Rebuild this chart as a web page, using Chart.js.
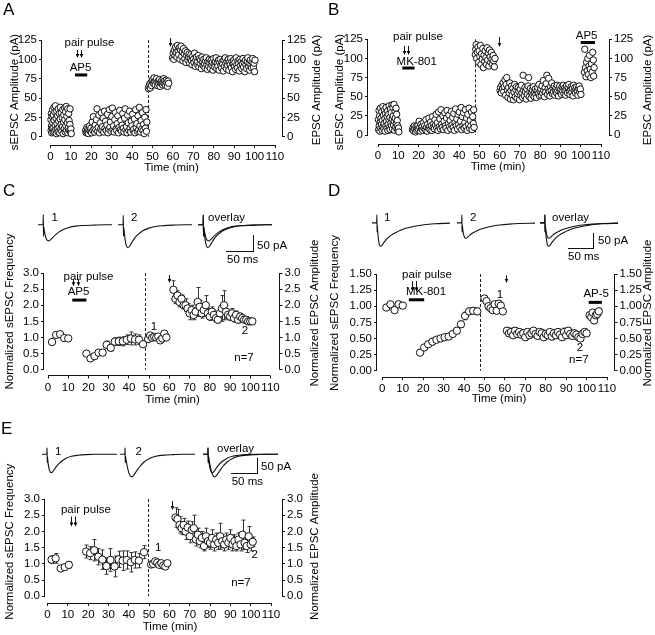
<!DOCTYPE html>
<html>
<head>
<meta charset="utf-8">
<script src="https://cdn.jsdelivr.net/npm/chart.js@4.4.1/dist/chart.umd.min.js"></script>
<style>
body { margin: 0; background: #fff; }
#fig { position: relative; width: 655px; height: 635px; overflow: hidden; font-family: "Liberation Sans", Arial, sans-serif; color: #000; }
#fig canvas { position: absolute; }
.lbl { position: absolute; white-space: nowrap; }
.sbar { position: absolute; border-right: 1px solid #111; border-bottom: 1px solid #111; }
</style>
</head>
<body>
<div id="fig"></div>
<script>
// ---- tick labels ----
const timeTicks = [0, 10, 20, 30, 40, 50, 60, 70, 80, 90, 100, 110];
const ampTicks = [0, 25, 50, 75, 100, 125];
const normTicks3 = [0, 0.5, 1, 1.5, 2, 2.5, 3];
const normTicks15 = [0, 0.25, 0.5, 0.75, 1, 1.25, 1.5];

// ---- A: [time (min), amplitude (pA)] ----
const aBase = [[0.2,22],[0.3,8],[0.4,30],[0.5,14],[0.6,5],[0.8,26],[0.9,11],[1.0,35],[1.1,18],[1.3,6],[1.4,28],[1.6,12],[1.7,38],[1.8,21],[2.0,7],[2.1,32],[2.3,15],[2.4,40],[2.6,9],[2.7,24],[2.9,4],[3.0,33],[3.2,17],[3.3,10],[3.5,27],[3.7,6],[3.8,36],[4.0,20],[4.2,12],[4.3,30],[4.5,5],[4.7,23],[4.8,38],[5.0,9],[5.2,16],[5.3,31],[5.5,7],[5.7,25],[5.9,13],[6.0,35],[6.2,4],[6.4,19],[6.5,28],[6.7,10],[6.9,37],[7.0,22],[7.2,6],[7.4,32],[7.5,14],[7.7,39],[7.9,8],[8.0,26],[8.2,18],[8.4,36],[8.5,5],[8.7,11],[8.9,30],[9.1,21],[9.3,8],[9.5,16],[9.6,36],[9.8,6],[10.0,10],[10.2,4]];
const aAfterDrug = [[17.2,8],[17.5,5],[17.8,12],[18.0,6],[18.3,10],[18.6,4],[18.9,9],[19.2,14],[19.5,7],[19.8,11],[20.1,5],[20.4,19],[20.7,8],[21.0,26],[21.3,10],[21.6,6],[21.9,15],[22.2,9],[22.5,22],[22.8,36],[23.1,7],[23.4,12],[23.7,28],[24.0,5],[24.3,18],[24.6,10],[24.9,31],[25.2,8],[25.5,13],[25.8,24],[26.1,6],[26.4,33],[26.7,11],[27.0,20],[27.3,8],[27.6,15],[27.9,29],[28.2,5],[28.5,10],[28.8,35],[29.1,12],[29.4,19],[29.7,7],[30.0,26],[30.3,37],[30.6,9],[30.9,14],[31.2,6],[31.5,22],[31.8,31],[32.1,10],[32.4,8],[32.7,17],[33.0,27],[33.3,5],[33.6,12],[33.9,34],[34.2,9],[34.5,21],[34.8,7],[35.1,15],[35.4,30],[35.7,11],[36.0,6],[36.3,24],[36.6,36],[36.9,9],[37.2,13],[37.5,5],[37.8,28],[38.1,18],[38.4,8],[38.7,33],[39.0,11],[39.3,6],[39.6,20],[39.9,14],[40.2,29],[40.5,8],[40.8,10],[41.1,23],[41.4,5],[41.7,35],[42.0,12],[42.3,17],[42.6,7],[42.9,27],[43.2,9],[43.5,38],[43.8,14],[44.1,6],[44.4,21],[44.7,10],[45.0,31],[45.3,8],[45.6,16],[45.9,4],[46.2,25],[46.5,11],[46.8,35],[47.0,7],[47.2,19]];
const aEvoked = [[48.0,62],[48.3,65],[48.6,68],[48.9,63],[49.2,70],[49.5,66],[49.8,72],[50.1,74],[50.4,69],[50.7,76],[51.0,71],[51.3,67],[51.6,73],[51.9,75],[52.2,70],[52.5,66],[52.8,72],[53.1,68],[53.4,74],[53.7,65],[54.0,71],[54.3,69],[54.6,73],[54.9,67],[55.2,70],[55.5,75],[55.8,72],[56.1,68],[56.4,66],[56.7,73],[57.0,70],[57.3,65],[57.6,72],[57.9,69]];
const aLtp = [[59.8,102],[60.1,108],[60.4,100],[60.7,112],[61.0,105],[61.3,116],[61.6,109],[61.9,103],[62.2,118],[62.5,111],[62.8,106],[63.1,115],[63.4,100],[63.7,112],[64.0,117],[64.3,104],[64.6,110],[64.9,98],[65.2,114],[65.5,107],[65.8,101],[66.1,111],[66.4,96],[66.7,105],[67.0,109],[67.3,99],[67.6,103],[67.9,107],[68.2,95],[68.5,102],[68.8,106],[69.1,98],[69.4,93],[69.7,104],[70.0,100],[70.3,96],[70.6,108],[70.9,91],[71.2,99],[71.5,103],[71.8,94],[72.1,97],[72.4,105],[72.7,90],[73.0,101],[73.3,95],[73.6,99],[73.9,88],[74.2,103],[74.5,96],[74.8,92],[75.1,100],[75.4,94],[75.7,89],[76.0,98],[76.3,102],[76.6,93],[76.9,87],[77.2,97],[77.5,91],[77.8,100],[78.1,95],[78.4,88],[78.7,99],[79.0,93],[79.3,96],[79.6,86],[79.9,101],[80.2,94],[80.5,90],[80.8,97],[81.1,102],[81.4,88],[81.7,95],[82.0,91],[82.3,99],[82.6,86],[82.9,96],[83.2,100],[83.5,92],[83.8,89],[84.1,97],[84.4,94],[84.7,85],[85.0,99],[85.3,91],[85.6,102],[85.9,95],[86.2,88],[86.5,97],[86.8,92],[87.1,100],[87.4,86],[87.7,96],[88.0,93],[88.3,101],[88.6,89],[88.9,97],[89.2,84],[89.5,94],[89.8,99],[90.1,91],[90.4,96],[90.7,87],[91.0,102],[91.3,93],[91.6,89],[91.9,98],[92.2,95],[92.5,85],[92.8,100],[93.1,92],[93.4,97],[93.7,88],[94.0,94],[94.3,101],[94.6,90],[94.9,96],[95.2,84],[95.5,99],[95.8,93],[96.1,88],[96.4,97],[96.7,102],[97.0,91],[97.3,95],[97.6,86],[97.9,99],[98.2,93],[98.5,89],[98.8,97],[99.1,101],[99.4,90],[99.7,95],[100.0,84],[100.2,99]];

// ---- B: [time (min), amplitude (pA)] ----
const bBase = [[0.2,20],[0.3,7],[0.5,32],[0.6,12],[0.8,25],[0.9,5],[1.1,17],[1.2,35],[1.4,9],[1.5,22],[1.7,14],[1.9,30],[2.0,6],[2.2,19],[2.4,37],[2.5,11],[2.7,26],[2.9,8],[3.0,15],[3.2,33],[3.4,21],[3.5,5],[3.7,28],[3.9,12],[4.0,36],[4.2,18],[4.4,9],[4.5,24],[4.7,31],[4.9,6],[5.0,14],[5.2,27],[5.4,20],[5.5,38],[5.7,10],[5.9,23],[6.0,7],[6.2,34],[6.4,16],[6.5,29],[6.7,12],[6.9,39],[7.0,21],[7.2,8],[7.4,36],[7.5,25],[7.7,13],[7.9,40],[8.0,18],[8.2,6],[8.4,31],[8.5,22],[8.7,10],[8.9,35],[9.0,15],[9.2,27],[9.4,8],[9.5,19],[9.7,12],[9.9,5],[10.1,9],[10.3,4]];
const bAfterDrug = [[17.0,7],[17.3,10],[17.6,5],[17.9,12],[18.2,8],[18.5,4],[18.8,11],[19.1,6],[19.4,9],[19.7,13],[20.0,7],[20.3,18],[20.6,10],[20.9,5],[21.2,14],[21.5,8],[21.8,11],[22.1,6],[22.4,16],[22.7,9],[23.0,12],[23.3,7],[23.6,20],[23.9,10],[24.2,5],[24.5,14],[24.8,9],[25.1,22],[25.4,11],[25.7,7],[26.0,17],[26.3,12],[26.6,6],[26.9,24],[27.2,10],[27.5,15],[27.8,8],[28.1,20],[28.4,13],[28.7,27],[29.0,9],[29.3,16],[29.6,6],[29.9,30],[30.2,11],[30.5,21],[30.8,8],[31.1,33],[31.4,14],[31.7,10],[32.0,25],[32.3,7],[32.6,18],[32.9,29],[33.2,12],[33.5,9],[33.8,22],[34.1,32],[34.4,6],[34.7,15],[35.0,26],[35.3,11],[35.6,19],[35.9,8],[36.2,31],[36.5,13],[36.8,23],[37.1,10],[37.4,28],[37.7,6],[38.0,16],[38.3,34],[38.6,12],[38.9,21],[39.2,8],[39.5,27],[39.8,14],[40.1,30],[40.4,10],[40.7,18],[41.0,36],[41.3,7],[41.6,24],[41.9,12],[42.2,29],[42.5,9],[42.8,16],[43.1,33],[43.4,11],[43.7,22],[44.0,6],[44.3,27],[44.6,14],[44.9,35],[45.2,9],[45.5,19],[45.8,12],[46.1,30],[46.4,7],[46.7,24],[47.0,15],[47.2,33],[47.4,10]];
const bEvoked = [[48.0,105],[48.2,112],[48.4,118],[48.7,100],[49.0,108],[49.3,115],[49.6,95],[49.9,110],[50.2,103],[50.5,117],[50.8,92],[51.1,106],[51.4,99],[51.7,113],[52.0,88],[52.3,104],[52.6,96],[52.9,110],[53.2,101],[53.5,92],[53.8,114],[54.1,98],[54.4,107],[54.7,90],[55.0,111],[55.3,102],[55.6,95],[55.9,108],[56.2,99],[56.5,92],[56.8,104],[57.1,97],[57.4,89],[57.7,100]];
const bLtd = [[60.2,58],[60.5,62],[60.8,55],[61.1,65],[61.4,60],[61.7,68],[62.0,57],[62.3,63],[62.6,72],[62.9,52],[63.2,66],[63.5,75],[63.8,59],[64.1,49],[64.4,62],[64.7,55],[65.0,68],[65.3,47],[65.6,58],[65.9,64],[66.2,52],[66.5,61],[66.8,46],[67.1,56],[67.4,66],[67.7,50],[68.0,59],[68.3,63],[68.6,48],[68.9,54],[69.2,62],[69.5,57],[69.8,46],[70.1,60],[70.4,52],[70.7,65],[71.0,55],[71.3,49],[71.6,78],[71.9,58],[72.2,51],[72.5,62],[72.8,56],[73.1,47],[73.4,60],[73.7,53],[74.0,64],[74.3,75],[74.6,50],[74.9,57],[75.2,61],[75.5,48],[75.8,55],[76.1,59],[76.4,52],[76.7,63],[77.0,50],[77.3,56],[77.6,60],[77.9,53],[78.2,49],[78.5,58],[78.8,62],[79.1,54],[79.4,66],[79.7,51],[80.0,57],[80.3,60],[80.6,52],[80.9,64],[81.2,55],[81.5,71],[81.8,58],[82.1,50],[82.4,62],[82.7,56],[83.0,67],[83.3,78],[83.6,53],[83.9,60],[84.2,74],[84.5,57],[84.8,51],[85.1,63],[85.4,58],[85.7,68],[86.0,54],[86.3,61],[86.6,56],[86.9,64],[87.2,52],[87.5,59],[87.8,62],[88.1,55],[88.4,65],[88.7,58],[89.0,51],[89.3,61],[89.6,64],[89.9,56],[90.2,60],[90.5,53],[90.8,63],[91.1,57],[91.4,65],[91.7,54],[92.0,61],[92.3,58],[92.6,52],[92.9,64],[93.2,59],[93.5,55],[93.8,62],[94.1,66],[94.4,57],[94.7,53],[95.0,60],[95.3,63],[95.6,56],[95.9,61],[96.2,51],[96.5,65],[96.8,58],[97.1,62],[97.4,55],[97.7,60],[98.0,63],[98.3,57],[98.6,52],[98.9,61],[99.2,64],[99.5,56],[99.8,60],[100.1,53]];
const bAp5 = [[101.8,82],[102.0,112],[102.3,88],[102.6,76],[102.9,95],[103.2,84],[103.5,100],[103.8,79],[104.1,90],[104.4,104],[104.7,86],[105.0,75],[105.3,93],[105.6,82],[105.9,108],[106.2,98],[106.4,77],[106.6,88]];

// ---- C: normalized, mean and SEM ----
const cPreT = [2, 4, 6, 8, 10];
const cPreV = [0.86, 1.08, 1.1, 0.98, 0.97];
const cPreE = [0.03, 0.03, 0.03, 0.03, 0.03];
const cDrugT = [19, 21, 23, 25, 27, 29, 31, 33, 35, 37, 39, 41, 43, 45, 47];
const cDrugV = [0.5, 0.35, 0.42, 0.53, 0.53, 0.77, 0.68, 0.87, 0.88, 0.88, 0.93, 0.97, 0.94, 0.93, 0.79];
const cDrugE = [0.05, 0.05, 0.05, 0.06, 0.08, 0.12, 0.1, 0.12, 0.13, 0.14, 0.15, 0.2, 0.17, 0.15, 0.08];
const cEvT = [49.5, 50.5, 51.5, 52.5, 53.5, 54.5, 55.5, 56.5, 57.5, 58.5];
const cEvV = [0.95, 1.06, 0.99, 1.02, 1.0, 1.03, 0.91, 0.97, 1.12, 1.0];
const cEvE = [0.04, 0.04, 0.04, 0.04, 0.04, 0.04, 0.04, 0.04, 0.04, 0.04];
const cLtpT = [62,63,64,65,66,67,68,69,70,71,72,73,74,75,76,77,78,79,80,81,82,83,84,85,86,87,88,89,90,91,92,93,94,95,96,97,98,99,100,101];
const cLtpV = [2.48,2.2,2.3,2.1,2.2,2.0,2.0,1.9,1.75,1.85,1.7,1.8,2.1,1.95,1.75,1.85,2.0,1.75,1.65,1.8,1.7,1.6,1.55,1.75,1.9,2.0,1.8,1.7,1.65,1.75,1.6,1.7,1.55,1.65,1.6,1.55,1.55,1.5,1.5,1.5];
const cLtpE = [0.28,0.15,0.15,0.15,0.12,0.12,0.2,0.15,0.2,0.15,0.15,0.12,0.45,0.2,0.15,0.2,0.3,0.15,0.12,0.15,0.15,0.12,0.1,0.15,0.4,0.45,0.2,0.15,0.12,0.15,0.12,0.12,0.1,0.1,0.1,0.08,0.08,0.06,0.06,0.05];

// ---- D ----
const dPreT = [2, 4, 6, 8, 10];
const dPreV = [0.98, 1.03, 0.94, 1.03, 1.01];
const dPreE = [0.02, 0.02, 0.02, 0.02, 0.02];
const dDrugT = [18.5, 20.5, 22.5, 24.5, 26.5, 28.5, 30.5, 32.5, 34.5, 36.5, 38.5, 40.5, 42.5, 44.5, 46.5];
const dDrugV = [0.28, 0.36, 0.41, 0.45, 0.48, 0.5, 0.52, 0.53, 0.57, 0.62, 0.72, 0.85, 0.92, 0.93, 0.92];
const dDrugE = [0.02, 0.04, 0.04, 0.05, 0.04, 0.03, 0.03, 0.03, 0.04, 0.04, 0.05, 0.06, 0.05, 0.05, 0.05];
const dEvT = [50, 51, 52, 53, 54, 55, 56, 57, 58, 59];
const dEvV = [1.12, 1.08, 1.0, 0.97, 0.94, 1.03, 0.93, 1.04, 1.01, 0.92];
const dEvE = [0.03, 0.03, 0.03, 0.03, 0.03, 0.03, 0.03, 0.03, 0.03, 0.03];
const dLtdT = [61,62,63,64,65,66,67,68,69,70,71,72,73,74,75,76,77,78,79,80,81,82,83,84,85,86,87,88,89,90,91,92,93,94,95,96,97,98,99,100];
const dLtdV = [0.62,0.58,0.6,0.55,0.62,0.57,0.6,0.56,0.58,0.52,0.6,0.55,0.58,0.62,0.57,0.54,0.6,0.58,0.52,0.57,0.55,0.6,0.53,0.58,0.55,0.6,0.56,0.52,0.6,0.55,0.62,0.57,0.54,0.58,0.56,0.52,0.5,0.57,0.6,0.58];
const dLtdE = [0.05,0.05,0.06,0.05,0.05,0.04,0.05,0.05,0.06,0.05,0.05,0.05,0.04,0.05,0.05,0.05,0.05,0.06,0.05,0.05,0.05,0.04,0.05,0.06,0.05,0.05,0.05,0.05,0.06,0.05,0.05,0.06,0.05,0.05,0.05,0.05,0.04,0.05,0.05,0.04];
const dApT = [101.5, 102.3, 103, 103.7, 104.5, 105.2, 106];
const dApV = [0.86, 0.83, 0.9, 0.78, 0.86, 0.88, 0.92];
const dApE = [0.05, 0.04, 0.05, 0.05, 0.04, 0.05, 0.05];

// ---- E ----
const ePreT = [2, 4, 6.5, 8.5, 10.5];
const ePreV = [1.13, 1.17, 0.86, 0.9, 0.97];
const ePreE = [0.12, 0.15, 0.05, 0.05, 0.1];
const eMidT = [19, 21, 23, 25, 27, 29, 31, 33, 35, 37, 39, 41, 43, 45, 47.5];
const eMidV = [1.38, 1.33, 1.42, 1.22, 1.13, 0.93, 1.12, 0.92, 1.14, 1.1, 1.12, 1.05, 1.12, 1.1, 1.36];
const eMidE = [0.2, 0.2, 0.33, 0.25, 0.3, 0.25, 0.35, 0.32, 0.25, 0.3, 0.28, 0.3, 0.25, 0.22, 0.2];
const eEvT = [51, 52, 53, 54, 55, 56, 57, 58, 59];
const eEvV = [0.98, 1.0, 1.08, 1.04, 0.97, 1.02, 0.95, 0.92, 1.02];
const eEvE = [0.04, 0.04, 0.04, 0.04, 0.04, 0.04, 0.04, 0.04, 0.04];
const eLtpT = [63,64,65,66,67,68,69,70,71,72,73,74,75,76,77,78,79,80,81,82,83,84,85,86,87,88,89,90,91,92,93,94,95,96,97,98,99,100,101];
const eLtpV = [2.43,2.38,2.2,2.1,2.2,2.0,2.12,1.85,2.05,2.1,1.75,1.9,1.7,1.8,1.55,1.85,1.7,1.65,1.8,1.6,1.75,1.65,1.85,1.7,1.6,1.75,1.65,1.8,1.6,1.7,1.55,1.75,1.6,1.9,1.65,1.55,1.85,1.6,1.68];
const eLtpE = [0.3,0.3,0.25,0.2,0.2,0.25,0.2,0.2,0.25,0.4,0.2,0.2,0.2,0.2,0.15,0.25,0.2,0.2,0.25,0.2,0.2,0.2,0.4,0.2,0.2,0.2,0.2,0.25,0.2,0.2,0.15,0.2,0.2,0.45,0.2,0.2,0.3,0.2,0.15];

// ---- EPSC traces: time (ms) and current (pA) ----
const traceMs = [0, 9, 9.4, 9.8, 10.3, 11, 12.5, 14.5, 17, 19.5, 22, 26, 31, 37, 45, 55, 67, 82, 100, 120, 150];
const cTrace1 = [0, 0, 30, -34, -6, -14, -28, -41, -47, -48, -45, -38, -30, -22, -14, -8, -4, -2, -1, 0, 0];
const cTrace2 = [0, 0, 28, -34, -8, -20, -42, -60, -68, -66, -60, -49, -37, -27, -17, -10, -5, -2.5, -1, 0, 0];
const dTrace1 = [0, 0, 26, -30, -10, -30, -55, -72, -76, -72, -66, -57, -48, -40, -32, -24, -17, -11, -6, -3, -1];
const dTrace2 = [0, 0, 26, -30, -8, -20, -36, -47, -50, -48, -44, -38, -32, -27, -21, -16, -11, -7, -4, -2, -1];
const eTrace1 = [0, 0, 20, -26, -8, -22, -40, -52, -57, -55, -50, -40, -30, -21, -12, -6, -3, -1, 0, 0, 0];
const eTrace2 = [0, 0, 20, -26, -6, -14, -28, -45, -60, -68, -70, -64, -52, -38, -24, -13, -6, -2.5, -1, 0, 0];

const FONT = '"Liberation Sans", Arial, sans-serif';
const FS = 11.5;
Chart.defaults.font.family = FONT;
Chart.defaults.color = '#000';

const fig = document.getElementById('fig');

function addCanvas(x, y, w, h) {
  const c = document.createElement('canvas');
  c.width = Math.round(w);
  c.height = Math.round(h);
  c.style.left = Math.round(x) + 'px';
  c.style.top = Math.round(y) + 'px';
  c.style.width = c.width + 'px';
  c.style.height = c.height + 'px';
  fig.appendChild(c);
  return c;
}

function addText(s, x, yMid, size) {
  const d = document.createElement('div');
  d.className = 'lbl';
  d.textContent = s;
  d.style.fontSize = size + 'px';
  d.style.lineHeight = size + 'px';
  d.style.left = x + 'px';
  d.style.top = (yMid - size / 2) + 'px';
  fig.appendChild(d);
}

function addScaleBar(x1, y1, x2, y2) {
  const d = document.createElement('div');
  d.className = 'sbar';
  d.style.left = x1 + 'px';
  d.style.top = y1 + 'px';
  d.style.width = (x2 - x1 - 1) + 'px';
  d.style.height = (y2 - y1 - 1) + 'px';
  fig.appendChild(d);
}

// maps two known pixel positions to the value range covering [lo, hi] pixels
function span(px, val, lo, hi) {
  const k = (px[1] - px[0]) / (val[1] - val[0]);
  return [val[0] + (lo - px[0]) / k, val[0] + (hi - px[0]) / k];
}

const pts = (t, v) => t.map((x, i) => ({x: x, y: v[i]}));

const decor = {
  id: 'decor',
  beforeDatasetsDraw(chart, args, o) {
    const {ctx, scales: {x, y}} = chart;
    ctx.save();
    ctx.strokeStyle = '#222';
    ctx.lineWidth = 1;
    if (o.dashed) {
      ctx.setLineDash([3, 2]);
      const px = Math.round(x.getPixelForValue(o.dashed.t)) + 0.5;
      ctx.beginPath();
      ctx.moveTo(px, y.getPixelForValue(o.dashed.v1));
      ctx.lineTo(px, y.getPixelForValue(o.dashed.v2));
      ctx.stroke();
      ctx.setLineDash([]);
    }
    ctx.strokeStyle = '#333';
    chart.data.datasets.forEach(ds => {
      if (!ds.errors) return;
      ds.data.forEach((p, i) => {
        const e = ds.errors[i];
        const px = Math.round(x.getPixelForValue(p.x)) + 0.5;
        const top = y.getPixelForValue(p.y + e), bot = y.getPixelForValue(p.y - e);
        ctx.beginPath();
        ctx.moveTo(px, top); ctx.lineTo(px, bot);
        ctx.moveTo(px - 2, top); ctx.lineTo(px + 2, top);
        ctx.moveTo(px - 2, bot); ctx.lineTo(px + 2, bot);
        ctx.stroke();
      });
    });
    ctx.restore();
  },
  afterDraw(chart, args, o) {
    const {ctx, chartArea: a, scales: {x, y}} = chart;
    const X = v => x.getPixelForValue(v), Y = v => y.getPixelForValue(v);
    const yt = y.ticks, xt = x.ticks;
    ctx.save();
    ctx.strokeStyle = '#111';
    ctx.fillStyle = '#000';
    ctx.lineWidth = 1;
    // offset axis lines
    const lx = Math.floor(a.left) - 0.5, rx = Math.floor(a.right) + 0.5, by = Math.floor(a.bottom) + 0.5;
    ctx.beginPath();
    ctx.moveTo(lx, Y(yt[0].value)); ctx.lineTo(lx, Y(yt[yt.length - 1].value));
    ctx.moveTo(rx, Y(yt[0].value)); ctx.lineTo(rx, Y(yt[yt.length - 1].value));
    ctx.moveTo(X(xt[0].value), by); ctx.lineTo(X(xt[xt.length - 1].value), by);
    ctx.stroke();
    // drug bars
    (o.bars || []).forEach(b => {
      ctx.fillRect(X(b.t1), Y(b.v) - 1.5, X(b.t2) - X(b.t1), 3);
    });
    // arrows
    (o.arrows || []).forEach(r => {
      const px = Math.round(X(r.t)) + 0.5, y1 = Y(r.v1), y2 = Y(r.v2);
      ctx.beginPath(); ctx.moveTo(px, y1); ctx.lineTo(px, y2 - 2); ctx.stroke();
      ctx.beginPath(); ctx.moveTo(px - 1.8, y2 - 4); ctx.lineTo(px + 1.8, y2 - 4); ctx.lineTo(px, y2); ctx.closePath(); ctx.fill();
    });
    // annotations
    ctx.font = FS + 'px ' + FONT;
    ctx.textAlign = 'center';
    ctx.textBaseline = 'middle';
    (o.texts || []).forEach(t => ctx.fillText(t.s, X(t.t), Y(t.v)));
    // axis titles (page coords)
    (o.titles || []).forEach(t => {
      ctx.save();
      ctx.translate(t.x - o.origin[0], t.y - o.origin[1]);
      if (t.rot) ctx.rotate(-Math.PI / 2);
      ctx.fillText(t.s, 0, 0);
      ctx.restore();
    });
    ctx.restore();
  }
};

function axisOpts(pos, r, ticks, fmt, size) {
  const o = {
    type: 'linear', position: pos, min: r[0], max: r[1],
    afterBuildTicks: s => { s.ticks = ticks.map(v => ({value: v})); },
    grid: {drawOnChartArea: false, tickLength: 3, color: '#111'},
    border: {display: false},
    ticks: {font: {size: FS}, padding: 2, color: '#000', maxRotation: 0, autoSkip: false, callback: fmt}
  };
  if (pos === 'bottom') o.afterFit = s => { s.height = size; };
  else o.afterFit = s => { s.width = size; };
  return o;
}

function scatterPanel(p) {
  const [bx, by, bw, bh] = p.box;
  const cv = addCanvas(bx, by, bw, bh);
  const xr = span(p.xPx, [0, 110], p.area.l, p.area.r);
  const yr = span(p.yPx, [0, p.yTop], p.area.b, p.area.t);
  new Chart(cv, {
    type: 'scatter',
    data: {
      datasets: p.series.map(s => ({
        data: s.data,
        errors: s.errors,
        pointRadius: p.r,
        pointBorderWidth: 1,
        pointBorderColor: '#111',
        pointBackgroundColor: '#fff',
        showLine: false
      }))
    },
    options: {
      responsive: false,
      animation: false,
      events: [],
      layout: {padding: {top: p.area.t - by, left: 0, right: 0, bottom: 0}},
      plugins: {
        legend: {display: false},
        tooltip: {enabled: false},
        decor: Object.assign({origin: [bx, by]}, p.decor)
      },
      scales: {
        x: axisOpts('bottom', xr, timeTicks, v => v, by + bh - p.area.b),
        y: axisOpts('left', yr, p.yTicks, p.fmt, p.area.l - bx),
        y2: axisOpts('right', yr, p.yTicks, p.fmt, bx + bw - p.area.r)
      }
    },
    plugins: [decor]
  });
}

function tracePanel(g) {
  g.traces.forEach(tr => {
    const left = tr.stimX - 9.6 * g.msPx;
    const top = g.baseY - g.yMax * g.paPx;
    const cv = addCanvas(left, top, g.tMax * g.msPx, (g.yMax - g.yMin) * g.paPx);
    new Chart(cv, {
      type: 'line',
      data: {
        datasets: tr.vals.map(v => ({
          data: pts(traceMs, v),
          borderColor: '#111',
          borderWidth: 1.1,
          pointRadius: 0,
          cubicInterpolationMode: 'monotone'
        }))
      },
      options: {
        responsive: false,
        animation: false,
        events: [],
        layout: {padding: 0},
        plugins: {legend: {display: false}, tooltip: {enabled: false}},
        scales: {
          x: {type: 'linear', display: false, min: 0, max: g.tMax},
          y: {type: 'linear', display: false, min: g.yMin, max: g.yMax}
        }
      }
    });
  });
  g.labels.forEach(l => addText(l[0], l[1], l[2], FS));
  addScaleBar(g.bar[0], g.bar[1], g.bar[2], g.bar[3]);
}

const int = v => v;
const one = v => v.toFixed(1);
const two = v => v.toFixed(2);

// ---- panel A ----
scatterPanel({
  box: [0, 0, 327, 175], area: {l: 42, t: 38, r: 282, b: 145},
  xPx: [50.5, 275], yPx: [136.7, 40], yTop: 125, yTicks: ampTicks, fmt: int, r: 3.2,
  series: [{data: aBase}, {data: aAfterDrug}, {data: aEvoked}, {data: aLtp}],
  decor: {
    dashed: {t: 48, v1: 125, v2: 0},
    texts: [{t: 19.1, v: 121.1, s: 'pair pulse'}, {t: 14.7, v: 89.5, s: 'AP5'}],
    arrows: [{t: 13, v1: 112, v2: 101.7}, {t: 15, v1: 112, v2: 101.7}, {t: 58.5, v1: 127.6, v2: 116}],
    bars: [{t1: 12, t2: 18, v: 79.8}],
    titles: [{s: 'sEPSC Amplitude (pA)', x: 15, y: 92, rot: true}, {s: 'EPSC Amplitude (pA)', x: 316.7, y: 90, rot: true}, {s: 'Time (min)', x: 171.5, y: 167.5}]
  }
});

// ---- panel B ----
scatterPanel({
  box: [327, 0, 328, 175], area: {l: 368, t: 37.3, r: 609, b: 144},
  xPx: [378, 601], yPx: [135, 39.3], yTop: 125, yTicks: ampTicks, fmt: int, r: 3.2,
  series: [{data: bBase}, {data: bAfterDrug}, {data: bEvoked}, {data: bLtd}, {data: bAp5}],
  decor: {
    dashed: {t: 48, v1: 125, v2: 0},
    texts: [{t: 19.7, v: 128.4, s: 'pair pulse'}, {t: 19.1, v: 95.3, s: 'MK-801'}, {t: 102.9, v: 129.3, s: 'AP5'}],
    arrows: [{t: 13, v1: 116.3, v2: 104.5}, {t: 15, v1: 116.3, v2: 104.5}, {t: 59.5, v1: 128, v2: 115}],
    bars: [{t1: 12, t2: 18, v: 87.5}, {t1: 100, t2: 107, v: 120.8}],
    titles: [{s: 'sEPSC Amplitude (pA)', x: 340, y: 92, rot: true}, {s: 'EPSC Amplitude (pA)', x: 648.3, y: 90, rot: true}, {s: 'Time (min)', x: 498, y: 166.7}]
  }
});

// ---- panel C ----
scatterPanel({
  box: [0, 228, 327, 190], area: {l: 44, t: 271, r: 279.5, b: 375.5},
  xPx: [48, 270.5], yPx: [369.7, 273], yTop: 3, yTicks: normTicks3, fmt: one, r: 3.7,
  series: [
    {data: pts(cPreT, cPreV), errors: cPreE},
    {data: pts(cDrugT, cDrugV), errors: cDrugE},
    {data: pts(cEvT, cEvV), errors: cEvE},
    {data: pts(cLtpT, cLtpV), errors: cLtpE}
  ],
  decor: {
    dashed: {t: 48, v1: 3, v2: 0},
    texts: [{t: 20, v: 2.89, s: 'pair pulse'}, {t: 15.1, v: 2.42, s: 'AP5'}, {t: 52.4, v: 1.33, s: '1'}, {t: 97.4, v: 1.2, s: '2'}, {t: 96.9, v: 0.37, s: 'n=7'}],
    arrows: [{t: 12.5, v1: 2.81, v2: 2.59}, {t: 14.6, v1: 2.81, v2: 2.59}, {t: 60, v1: 2.94, v2: 2.69}],
    bars: [{t1: 12, t2: 19, v: 2.16}],
    titles: [{s: 'Normalized sEPSC Frequency', x: 10, y: 311.5, rot: true}, {s: 'Normalized EPSC Amplitude', x: 315, y: 313, rot: true}, {s: 'Time (min)', x: 172.5, y: 400}]
  }
});

// ---- panel D ----
scatterPanel({
  box: [327, 228, 328, 190], area: {l: 377, t: 272, r: 614.5, b: 377},
  xPx: [382.3, 607], yPx: [370.7, 274], yTop: 1.5, yTicks: normTicks15, fmt: two, r: 3.7,
  series: [
    {data: pts(dPreT, dPreV), errors: dPreE},
    {data: pts(dDrugT, dDrugV), errors: dDrugE},
    {data: pts(dEvT, dEvV), errors: dEvE},
    {data: pts(dLtdT, dLtdV), errors: dLtdE},
    {data: pts(dApT, dApV), errors: dApE}
  ],
  decor: {
    dashed: {t: 48, v1: 1.5, v2: 0},
    texts: [{t: 21.9, v: 1.48, s: 'pair pulse'}, {t: 21.4, v: 1.225, s: 'MK-801'}, {t: 57.6, v: 1.17, s: '1'}, {t: 104.7, v: 1.2, s: 'AP-5'}, {t: 96.7, v: 0.35, s: '2'}, {t: 96.2, v: 0.17, s: 'n=7'}],
    arrows: [{t: 14.4, v1: 1.39, v2: 1.23}, {t: 16.3, v1: 1.39, v2: 1.23}, {t: 60.5, v1: 1.48, v2: 1.36}],
    bars: [{t1: 13, t2: 20.5, v: 1.1}, {t1: 101, t2: 107.5, v: 1.06}],
    titles: [{s: 'Normalized sEPSC Frequency', x: 335, y: 313, rot: true}, {s: 'Normalized EPSC Amplitude', x: 648.3, y: 313, rot: true}, {s: 'Time (min)', x: 499, y: 399}]
  }
});

// ---- panel E ----
scatterPanel({
  box: [0, 458, 327, 177], area: {l: 45, t: 497, r: 282, b: 603},
  xPx: [47.5, 271], yPx: [596.3, 499], yTop: 3, yTicks: normTicks3, fmt: one, r: 3.7,
  series: [
    {data: pts(ePreT, ePreV), errors: ePreE},
    {data: pts(eMidT, eMidV), errors: eMidE},
    {data: pts(eEvT, eEvV), errors: eEvE},
    {data: pts(eLtpT, eLtpV), errors: eLtpE}
  ],
  decor: {
    dashed: {t: 49.5, v1: 3, v2: 0},
    texts: [{t: 18.9, v: 2.66, s: 'pair pulse'}, {t: 54.5, v: 1.48, s: '1'}, {t: 102, v: 1.27, s: '2'}, {t: 95.2, v: 0.4, s: 'n=7'}],
    arrows: [{t: 11.4, v1: 2.46, v2: 2.15}, {t: 13.5, v1: 2.46, v2: 2.15}, {t: 61.5, v1: 2.94, v2: 2.66}],
    titles: [{s: 'Normalized sEPSC Frequency', x: 10, y: 541.7, rot: true}, {s: 'Normalized EPSC Amplitude', x: 315, y: 546.5, rot: true}, {s: 'Time (min)', x: 170, y: 627.3}]
  }
});

// ---- EPSC trace insets ----
tracePanel({
  baseY: 225, msPx: 0.56, paPx: 0.334, yMax: 35, yMin: -75, tMax: 132,
  traces: [{stimX: 43.3, vals: [cTrace1]}, {stimX: 123.3, vals: [cTrace2]}, {stimX: 203.3, vals: [cTrace1, cTrace2]}],
  labels: [['1', 51.5, 218], ['2', 131, 218], ['overlay', 208, 218], ['50 pA', 257, 245.7], ['50 ms', 227, 260]],
  bar: [226, 235, 254, 251.7]
});
tracePanel({
  baseY: 223, msPx: 0.52, paPx: 0.31, yMax: 32, yMin: -85, tMax: 150,
  traces: [{stimX: 376.7, vals: [dTrace1]}, {stimX: 461.7, vals: [dTrace2]}, {stimX: 545, vals: [dTrace1, dTrace2]}],
  labels: [['1', 384, 217.7], ['2', 470, 217.7], ['overlay', 552, 217.7], ['50 pA', 598, 241], ['50 ms', 568, 256.7]],
  bar: [568.3, 233.3, 594.3, 249]
});
tracePanel({
  baseY: 454.3, msPx: 0.534, paPx: 0.32, yMax: 32, yMin: -80, tMax: 140,
  traces: [{stimX: 46.7, vals: [eTrace1]}, {stimX: 125, vals: [eTrace2]}, {stimX: 208.3, vals: [eTrace1, eTrace2]}],
  labels: [['1', 55, 451.7], ['2', 135.5, 451.7], ['overlay', 217, 449], ['50 pA', 261, 466.7], ['50 ms', 231.7, 481.7]],
  bar: [231, 458, 257.7, 474]
});

// panel letters
[['A', 3, 9], ['B', 328, 9], ['C', 3, 190], ['D', 328, 190], ['E', 1, 428]].forEach(l => addText(l[0], l[1], l[2], 17));
</script>
</body>
</html>
